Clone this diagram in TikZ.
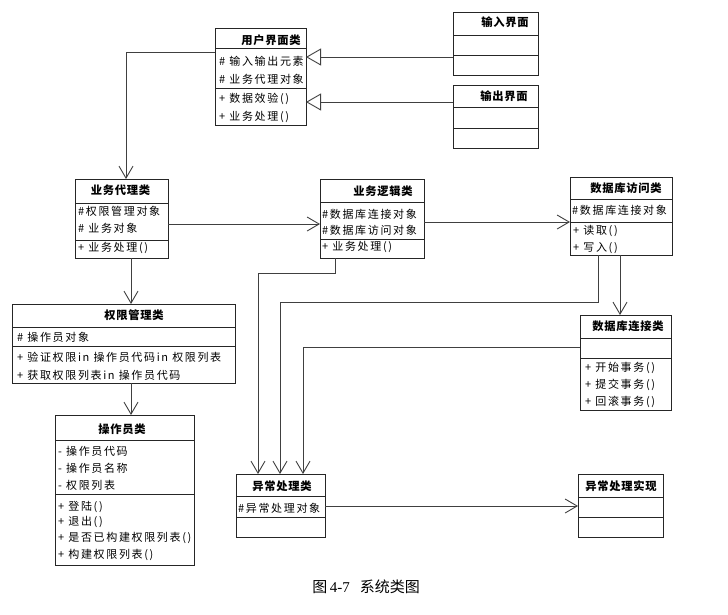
\documentclass[tikz,border=0pt]{standalone}
\usepackage{fontspec}
\setmainfont{Noto Sans CJK SC}
\newfontfamily\cjk{Noto Sans CJK SC}[LetterSpace=15]
\newfontfamily\cjkt{Noto Sans CJK SC}[LetterSpace=6]
\newfontfamily\serifnum{Liberation Serif}
\usetikzlibrary{arrows.meta}
\tikzset{
  cls/.style={draw=black!85, line width=0.8pt, inner sep=0pt, outer sep=0pt, anchor=north west, fill=white},
  sepline/.style={draw=black!85, line width=0.8pt},
  ttl/.style={font=\cjkt\bfseries\fontsize{11.3}{13}\selectfont, inner sep=0pt},
  mem/.style={font=\cjk\fontsize{11}{13}\selectfont, anchor=west, inner sep=0pt},
  conn/.style={draw=black!75, line width=0.9pt},
  dep/.style={conn, -{Straight Barb[length=12pt,width=14pt,line width=0.9pt]}},
  gen/.style={conn, -{Triangle[open,length=15pt,width=17pt,line width=0.9pt,fill=white]}},
}
\newcommand\umlbox[7]{% name, l, t, r, b, s1, s2
  \pgfmathsetmacro\bw{#4-#2}\pgfmathsetmacro\bh{#5-#3}
  \node[cls, minimum width=\bw pt, minimum height=\bh pt] (#1) at (#2,#3) {};
  \draw[sepline] (#2,#6) -- (#4,#6);
  \draw[sepline] (#2,#7) -- (#4,#7);
}
\begin{document}
\begin{tikzpicture}[x=1pt,y=-1pt]
\useasboundingbox[fill=white] (0,0) rectangle (728,614);

% boxes
\umlbox{ui}{215}{28}{306}{125}{48}{88}
\umlbox{in}{453}{12}{538}{75}{35}{55}
\umlbox{out}{453}{85}{538}{148}{107}{128}
\umlbox{bp}{75}{179}{168}{258}{203}{240}
\umlbox{bl}{320}{179}{424}{258}{202}{239}
\umlbox{da}{570}{177}{672}{255}{199}{222}
\umlbox{pm}{12}{304}{235}{383}{327.5}{346.5}
\umlbox{op}{55}{415}{194}{565}{440.5}{494}
\umlbox{dc}{580}{315}{671}{410}{338.5}{358}
\umlbox{ex}{236}{474}{325}{537}{496}{517}
\umlbox{ei}{578}{474}{663}{537}{497}{517}

% titles
\node[ttl] (ui-t) at (271,40) {用户界面类};
\node[ttl] (in-t) at (505,22) {输入界面};
\node[ttl] (out-t) at (504,96.5) {输出界面};
\node[ttl] (bp-t) at (120.5,190.5) {业务代理类};
\node[ttl] (bl-t) at (383,191) {业务逻辑类};
\node[ttl] (da-t) at (626,188) {数据库访问类};
\node[ttl] (pm-t) at (134,315.5) {权限管理类};
\node[ttl] (op-t) at (122,429) {操作员类};
\node[ttl] (dc-t) at (628,326) {数据库连接类};
\node[ttl] (ex-t) at (282,486) {异常处理类};
\node[ttl] (ei-t) at (621,486) {异常处理实现};

% members
\node[mem] (ui-a1) at (219,61.5) {\# 输入输出元素};
\node[mem] (ui-a2) at (219,79) {\# 业务代理对象};
\node[mem] (ui-m1) at (219,99) {+ 数据效验()};
\node[mem] (ui-m2) at (219,116.5) {+ 业务处理()};

\node[mem] (bp-a1) at (78,211.5) {\#权限管理对象};
\node[mem] (bp-a2) at (78,228.5) {\# 业务对象};
\node[mem] (bp-m1) at (78,248) {+ 业务处理()};

\node[mem] (bl-a1) at (322,214) {\#数据库连接对象};
\node[mem] (bl-a2) at (322,230) {\#数据库访问对象};
\node[mem] (bl-m1) at (322,247) {+ 业务处理()};

\node[mem] (da-a1) at (572,210.5) {\#数据库连接对象};
\node[mem] (da-m1) at (573,231) {+ 读取()};
\node[mem] (da-m2) at (573,248) {+ 写入()};

\node[mem] (pm-a1) at (17,337.5) {\# 操作员对象};
\node[mem] (pm-m1) at (17,357) {+ 验证权限in 操作员代码in 权限列表};
\node[mem] (pm-m2) at (17,375) {+ 获取权限列表in 操作员代码};

\node[mem] (op-a1) at (58,451.5) {- 操作员代码};
\node[mem] (op-a2) at (58,468.5) {- 操作员名称};
\node[mem] (op-a3) at (58,485.5) {- 权限列表};
\node[mem] (op-m1) at (58,506.5) {+ 登陆()};
\node[mem] (op-m2) at (58,521.5) {+ 退出()};
\node[mem] (op-m3) at (58,538) {+ 是否已构建权限列表()};
\node[mem] (op-m4) at (58,555) {+ 构建权限列表()};

\node[mem] (dc-m1) at (585,367.5) {+ 开始事务()};
\node[mem] (dc-m2) at (585,384.5) {+ 提交事务()};
\node[mem] (dc-m3) at (585,402) {+ 回滚事务()};

\node[mem] (ex-a1) at (238,508) {\#异常处理对象};

% connectors
\draw[gen] (in.west |- 0,57) -- (ui.east |- 0,57);
\draw[gen] (out.west |- 0,102) -- (ui.east |- 0,102);
\draw[dep] (ui.west |- 0,52) -| (126,0 |- bp.north);
\draw[dep] (bp.east |- 0,224) -- (bl.west |- 0,224);
\draw[dep] (bl.east |- 0,222) -- (da.west |- 0,222);
\draw[dep] (131,0 |- bp.south) -- (131,0 |- pm.north);
\draw[dep] (131,0 |- pm.south) -- (131,0 |- op.north);
\draw[dep] (620,0 |- da.south) -- (620,0 |- dc.north);
\draw[dep] (335,0 |- bl.south) |- (258,273) -- (258,0 |- ex.north);
\draw[dep] (598,0 |- da.south) |- (280,302) -- (280,0 |- ex.north);
\draw[dep] (dc.west |- 0,347) -| (303,0 |- ex.north);
\draw[dep] (ex.east |- 0,506) -- (ei.west |- 0,506);

% caption
\node[inner sep=0pt, font=\fontsize{15}{17}\selectfont] (cap) at (366,587) {图\,{\serifnum 4-7}\hspace{10pt}系统类图};
\end{tikzpicture}
\end{document}
